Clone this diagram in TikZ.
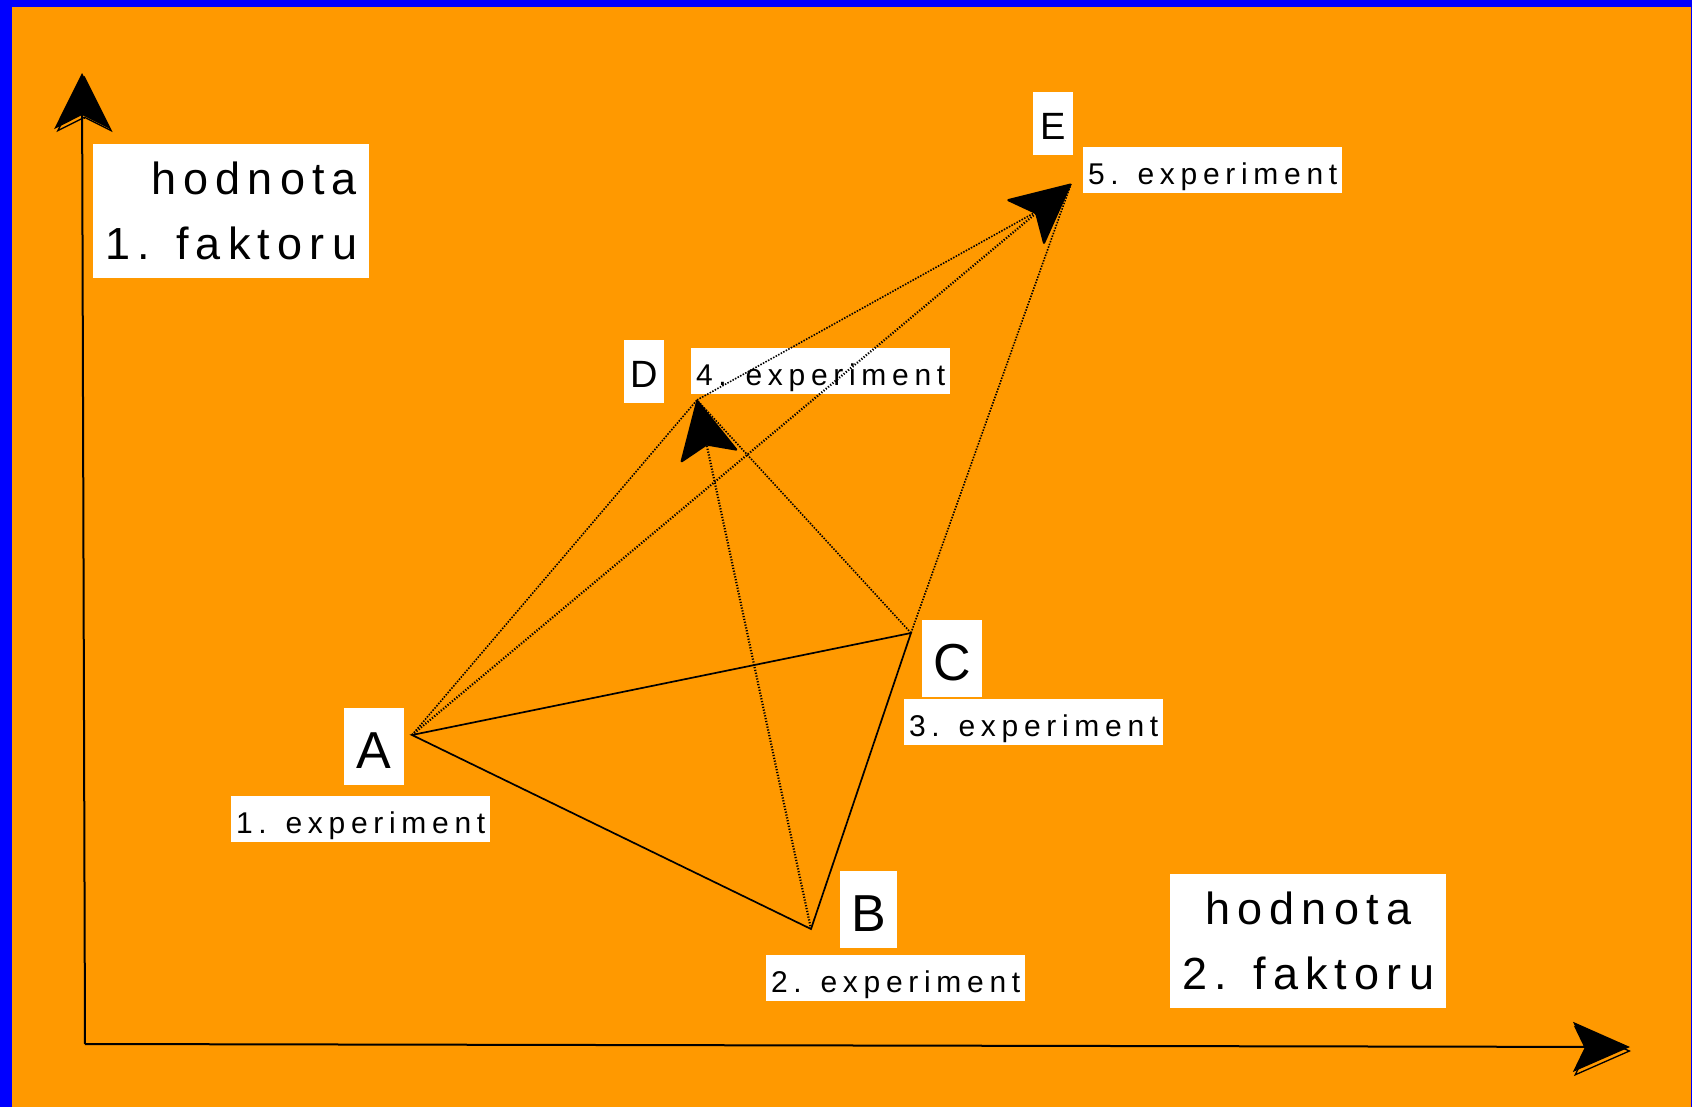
\documentclass[tikz,border=0pt]{standalone}
\usepackage{fontspec}
\setmainfont{Liberation Sans}
\newfontfamily\spacedfont[LetterSpace=19]{Liberation Sans}
\newfontfamily\axisfont[LetterSpace=16]{Liberation Sans}
\usetikzlibrary{arrows.meta,calc}

\definecolor{bgorange}{RGB}{255,153,0}
\definecolor{frameblue}{RGB}{0,0,255}

\begin{document}
\begin{tikzpicture}[x=1pt,y=-1pt,
  axisline/.style={line width=2pt},
  edge/.style={line width=1.7pt},
  trial/.style={line width=1.6pt, dash pattern=on 1.5pt off 1.4pt},
  letterbox/.style={fill=white, inner sep=0pt, anchor=north west,
    font=\fontsize{52}{52}\selectfont, text height=60pt, text depth=17pt,
    minimum width=60pt},
  smallletterbox/.style={fill=white, inner sep=0pt, anchor=north west,
    font=\fontsize{38}{38}\selectfont, text height=47.5pt, text depth=15.5pt,
    minimum width=40pt},
  explabel/.style={fill=white, inner sep=0pt, anchor=north west,
    font={\spacedfont\fontsize{30}{30}\selectfont}, text height=37pt,
    text depth=9pt, minimum width=259pt},
  axislabel/.style={fill=white, inner sep=0pt, anchor=north west,
    font={\axisfont\fontsize{45}{65}\selectfont}, minimum width=276pt,
    minimum height=134pt}
]
% background and frame
\fill[frameblue] (0,0) rectangle (1692,1107);
\fill[bgorange] (12,7) rectangle (1690.5,1107);
\useasboundingbox (0,0) rectangle (1692,1107);

% points of the simplex
\coordinate (O) at (85,1044);
\coordinate (Ytip) at (82,73);
\coordinate (Xtip) at (1630,1047);
\coordinate (A) at (412,735);
\coordinate (B) at (811,929);
\coordinate (C) at (911,633);
\coordinate (D) at (697,400);
\coordinate (E) at (1071,184);
\coordinate (Eback) at (1034,213);

% labels
\node[axislabel, align=right] (ylab) at (93,144) {hodnota\\1. faktoru};
\node[axislabel, align=center] (xlab) at (1170,874) {hodnota\\2. faktoru};

\node[letterbox] (nA) at (344,708) {A};
\node[letterbox, minimum width=57pt] (nB) at (840,871) {B};
\node[letterbox] (nC) at (922,620) {C};
\node[smallletterbox] (nD) at (624,340) {D};
\node[smallletterbox] (nE) at (1033,92) {E};

\node[explabel] (l1) at (231,796) {1. experiment};
\node[explabel] (l2) at (766,955) {2. experiment};
\node[explabel] (l3) at (904,699) {3. experiment};
\node[explabel] (l4) at (691,348) {4. experiment};
\node[explabel] (l5) at (1083,147) {5. experiment};

% axes with a shadow outline behind each head
\draw[line width=1.3pt, -{Stealth[open,length=56pt,width=56pt,inset=14pt]}]
  ($(Ytip)+(2.5,45)$) -- ($(Ytip)+(2.5,3)$);
\draw[line width=1.3pt, -{Stealth[open,length=57pt,width=50pt,inset=12pt]}]
  ($(Xtip)+(-44,4)$) -- ($(Xtip)+(1,4)$);
\draw[axisline, -{Stealth[length=56pt,width=56pt,inset=14pt]}] (O) -- (Ytip);
\draw[axisline, -{Stealth[length=57pt,width=50pt,inset=12pt]}] (O) -- (Xtip);

% first simplex
\draw[edge] (A) -- (B) -- (C) -- cycle;

% trial moves
\draw[trial] (A) -- (D);
\draw[trial] (C) -- (D);
\draw[trial, line width=2.2pt, dash pattern=on 1.2pt off 1.7pt,
  -{Stealth[length=60pt,width=60pt,inset=12pt,round]}] (B) -- (D);
\draw[trial] (D) -- (Eback);
\draw[trial] (C) -- (E);
\draw[trial, line width=2.2pt, dash pattern=on 1.2pt off 1.7pt,
  -{Stealth[length=62pt,width=60pt,inset=14pt,round]}] (A) -- (E);
\end{tikzpicture}
\end{document}
